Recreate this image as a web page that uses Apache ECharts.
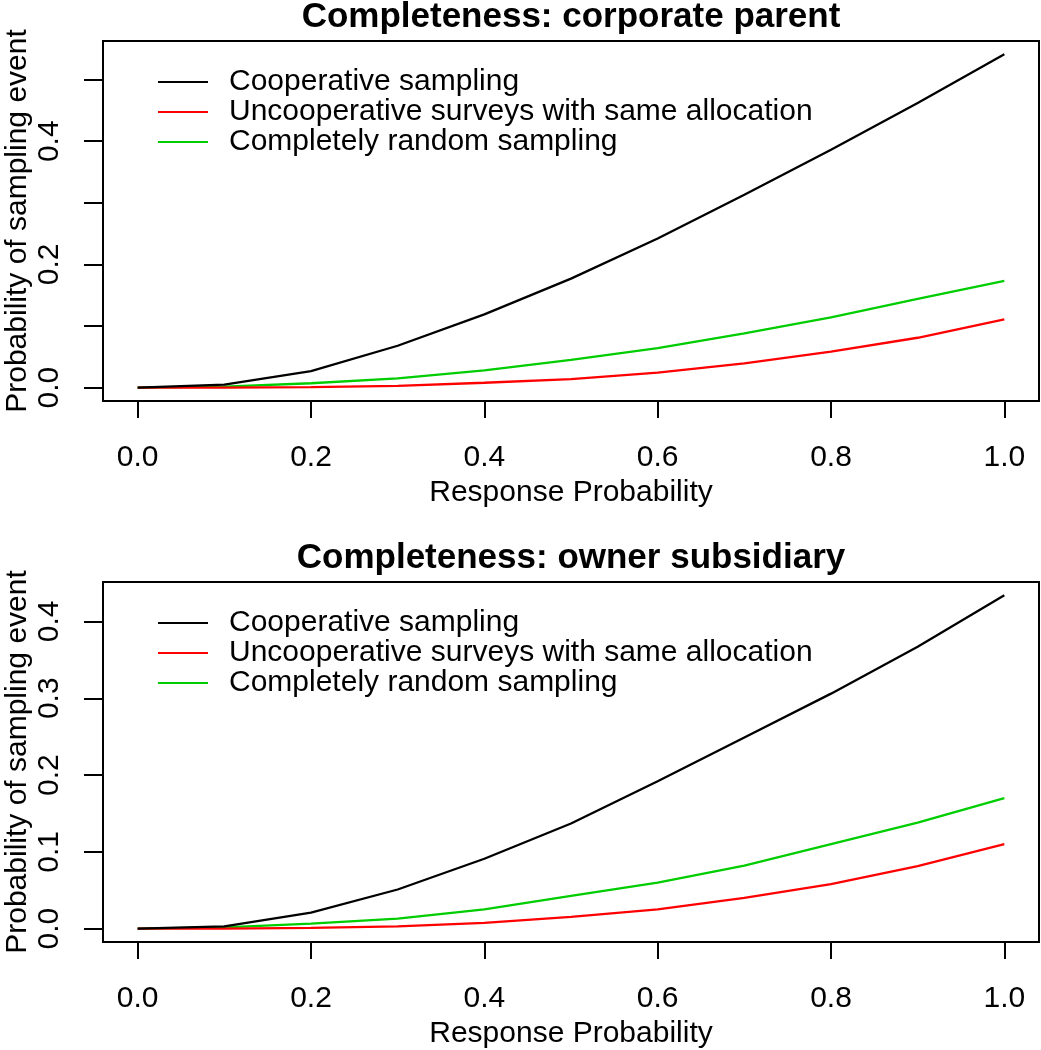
<!DOCTYPE html>
<html>
<head>
<meta charset="utf-8">
<script src="https://cdn.jsdelivr.net/npm/echarts@6/dist/echarts.min.js"></script>
<style>
html,body{margin:0;padding:0;background:#fff;}
#chart{width:1041px;height:1050px;}
</style>
</head>
<body>
<div id="chart"></div>
<script>
// ---- data ----
const responseProb = [0, 0.1, 0.2, 0.3, 0.4, 0.5, 0.6, 0.7, 0.8, 0.9, 1.0];
const seriesNames = ['Cooperative sampling', 'Uncooperative surveys with same allocation', 'Completely random sampling'];
const titles = ['Completeness: corporate parent', 'Completeness: owner subsidiary'];

// panel 1: corporate parent
const coopParent    = [0, 0.005, 0.027, 0.068, 0.119, 0.177, 0.242, 0.313, 0.386, 0.462, 0.541];
const uncoopParent  = [0, 0.0001, 0.001, 0.003, 0.008, 0.0137, 0.0243, 0.0395, 0.0585, 0.081, 0.111];
const randomParent  = [0, 0.0017, 0.0072, 0.015, 0.028, 0.045, 0.064, 0.088, 0.114, 0.144, 0.1735];

// panel 2: owner subsidiary
const coopOwner     = [0, 0.003, 0.021, 0.051, 0.091, 0.137, 0.192, 0.249, 0.306, 0.367, 0.434];
const uncoopOwner   = [0, 0.0001, 0.001, 0.003, 0.0075, 0.0153, 0.025, 0.040, 0.058, 0.0815, 0.110];
const randomOwner   = [0, 0.0017, 0.0065, 0.013, 0.025, 0.0426, 0.060, 0.082, 0.110, 0.138, 0.170];

// tick labels
const xTicks = [0, 0.2, 0.4, 0.6, 0.8, 1.0];
const yTicksParent = [0, 0.1, 0.2, 0.3, 0.4, 0.5];
const yLabelsParent = [0, 0.2, 0.4];
const yTicksOwner = [0, 0.1, 0.2, 0.3, 0.4];
const yLabelsOwner = [0, 0.1, 0.2, 0.3, 0.4];

// ---- chart ----
const FONT = '"Liberation Sans", Arial, Helvetica, sans-serif';
const FS = 30;
const colors = ['#000000', '#ff0000', '#00cd00'];
const panels = [
  {data: [coopParent, uncoopParent, randomParent], yTicks: yTicksParent, yLabels: yLabelsParent, top: 41},
  {data: [coopOwner, uncoopOwner, randomOwner], yTicks: yTicksOwner, yLabels: yLabelsOwner, top: 582}
];
const GRID_H = 360;

function pad(arrs) {
  let mx = -Infinity, mn = Infinity;
  arrs.forEach(a => a.forEach(v => { mx = Math.max(mx, v); mn = Math.min(mn, v); }));
  const r = mx - mn;
  return {min: mn - 0.04 * r, max: mx + 0.04 * r};
}
const xr = pad([responseProb]);

const option = {
  animation: false,
  backgroundColor: '#fff',
  title: panels.map((p, i) => ({
    text: titles[i],
    left: 571, textAlign: 'center',
    top: p.top - 41,
    padding: 0,
    textStyle: {fontFamily: FONT, fontSize: 35, fontWeight: 'bold', color: '#000'}
  })),
  legend: panels.map((p, i) => ({
    orient: 'vertical',
    left: 158,
    top: p.top + 26,
    padding: 0,
    icon: 'rect',
    itemWidth: 50, itemHeight: 2, itemGap: 0,
    data: seriesNames,
    selectedMode: false,
    textStyle: {fontFamily: FONT, fontSize: FS, color: '#000', lineHeight: 30, padding: [0, 0, 0, 16]}
  })),
  grid: panels.map(p => ({
    left: 103, right: 2, top: p.top, height: GRID_H,
    outerBoundsMode: 'none', containLabel: false,
    show: true, borderColor: '#000', borderWidth: 2, backgroundColor: 'transparent'
  })),
  xAxis: panels.map((p, i) => ({
    type: 'value', gridIndex: i,
    min: xr.min, max: xr.max,
    name: 'Response Probability', nameLocation: 'middle', nameGap: 77,
    nameTextStyle: {fontFamily: FONT, fontSize: FS, color: '#000'},
    axisLine: {show: false, onZero: false},
    splitLine: {show: false},
    axisTick: {show: true, inside: false, length: 17, lineStyle: {color: '#000', width: 2}, customValues: xTicks},
    axisLabel: {show: true, margin: 42, fontFamily: FONT, fontSize: FS, color: '#000',
      customValues: xTicks, formatter: v => v.toFixed(1)}
  })),
  yAxis: panels.map((p, i) => {
    const r = pad(p.data);
    return {
      type: 'value', gridIndex: i,
      min: r.min, max: r.max,
      name: 'Probability of sampling event', nameLocation: 'middle', nameGap: 70,
      nameMoveOverlap: false,
      nameTextStyle: {fontFamily: FONT, fontSize: FS, color: '#000'},
      axisLine: {show: false, onZero: false},
      splitLine: {show: false},
      axisTick: {show: true, inside: false, length: 19, lineStyle: {color: '#000', width: 2}, customValues: p.yTicks},
      axisLabel: {show: true, rotate: 90, margin: 38, fontFamily: FONT, fontSize: FS, color: '#000',
        customValues: p.yLabels, formatter: v => v.toFixed(1)}
    };
  }),
  series: []
};

panels.forEach((p, i) => {
  p.data.forEach((vals, k) => {
    option.series.push({
      type: 'line',
      name: seriesNames[k],
      xAxisIndex: i, yAxisIndex: i,
      data: responseProb.map((x, j) => [x, vals[j]]),
      symbol: 'none',
      showSymbol: false,
      lineStyle: {color: colors[k], width: 2.3},
      itemStyle: {color: colors[k]},
      z: 3 - k
    });
  });
});

const chart = echarts.init(document.getElementById('chart'), null, {renderer: 'canvas'});
chart.setOption(option);
</script>
</body>
</html>
